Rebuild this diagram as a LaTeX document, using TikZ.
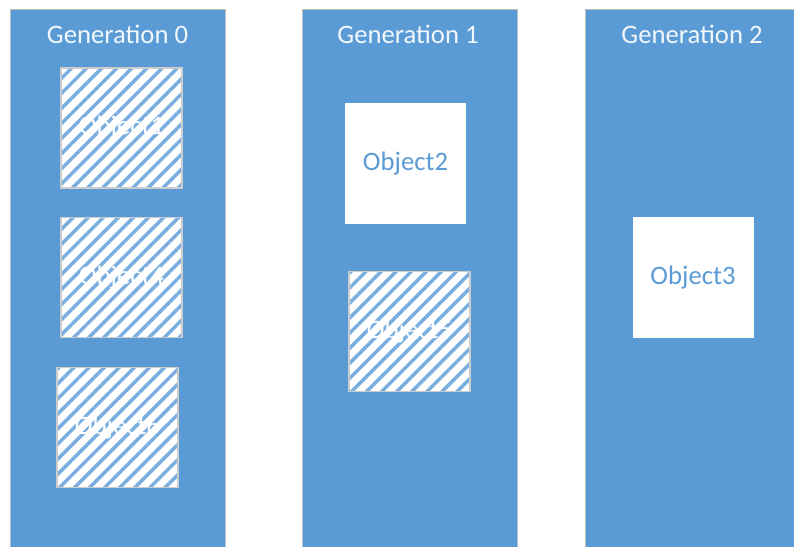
\documentclass[tikz,border=0pt]{standalone}
\usepackage{fontspec}
\setmainfont{Carlito}
\usetikzlibrary{patterns.meta}
\definecolor{genblue}{HTML}{5B9BD5}
\definecolor{stripe}{HTML}{7AAEDF}
\tikzset{
  gencol/.style={fill=genblue, draw=black!25, line width=0.6pt},
  genlabel/.style={text=white!92!genblue, font=\fontsize{20}{24}\selectfont, anchor=center},
  livebox/.style={fill=white, draw=none, minimum width=90.75pt, minimum height=90.75pt, inner sep=0pt,
    text=genblue, font=\fontsize{20}{24}\selectfont},
  deadbox/.style={draw=black!20, line width=0.9pt, minimum width=90.75pt, minimum height=90pt, inner sep=0pt,
    preaction={fill=white},
    pattern={Lines[angle=45,distance=8pt,line width=2.6pt]}, pattern color=stripe,
    text=white, font=\fontsize{20}{24}\selectfont}
}
\begin{document}
\begin{tikzpicture}[x=0.75pt,y=-0.75pt]
\useasboundingbox (0,0) rectangle (794,547);
\clip (0,0) rectangle (794,547);
\fill[white] (0,0) rectangle (794,547);
% columns
\path[gencol] (10,9) rectangle (225,560);
\path[gencol] (302,9) rectangle (517,560);
\path[gencol] (585,9) rectangle (810,560);
\node[genlabel] (g0) at (117.5,34) {Generation 0};
\node[genlabel] (g1) at (408,34) {Generation 1};
\node[genlabel] (g2) at (692,34) {Generation 2};
% generation 0
\node[deadbox] (o1) at (121.5,128) {Object1};
\node[deadbox] (o4) at (121.5,277.5) {Object4};
\node[deadbox] (o6) at (117.5,427.5) {Object6};
% generation 1
\node[livebox] (o2) at (405.5,163.5) {Object2};
\node[deadbox] (o5) at (409.5,331.5) {Object5};
% generation 2
\node[livebox] (o3) at (693,277.5) {Object3};
\end{tikzpicture}
\end{document}
